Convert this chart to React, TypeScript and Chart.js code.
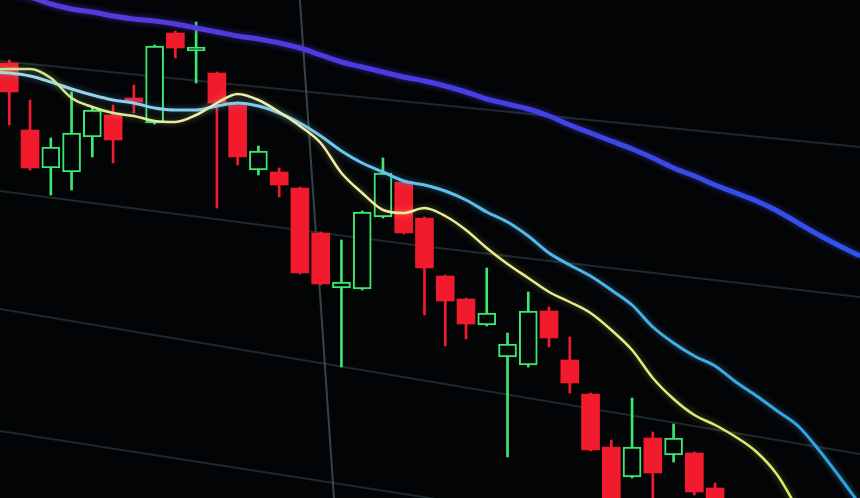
import React, { useEffect, useRef } from "react";
import { Chart, registerables } from "chart.js";

Chart.register(...registerables);

// ---- Candles (index -1 .. 34), prices ----
const candleStart = -1;
const opens = [40.0, 43.7, 37.0, 33.2, 32.8, 36.3, 38.5, 40.2, 37.7, 46.7, 44.9, 42.7, 39.7, 33.0, 32.8, 31.2, 26.7, 21.2, 21.1, 28.3, 31.8, 28.2, 22.4, 20.1, 17.5, 14.3, 13.5, 18.9, 14.0, 10.6, 5.3, 2.3, 6.2, 4.5, 4.7, 1.2];
const highs = [47.5, 44.0, 40.0, 36.2, 40.8, 39.2, 39.5, 41.5, 45.5, 46.9, 47.8, 42.8, 39.8, 35.4, 33.2, 31.3, 26.8, 26.0, 28.9, 34.2, 31.9, 28.3, 22.5, 20.2, 23.2, 16.7, 20.8, 19.3, 16.3, 10.7, 6.0, 10.2, 6.8, 7.6, 4.8, 1.7];
const lows = [38.8, 37.5, 33.0, 30.5, 31.0, 34.3, 33.7, 38.7, 37.6, 44.2, 41.7, 29.2, 33.5, 32.5, 30.3, 22.6, 21.5, 13.3, 21.0, 28.2, 26.6, 18.5, 15.4, 16.1, 17.4, 4.3, 13.3, 15.3, 10.7, 4.9, -1.0, 2.2, -1.0, 3.8, 0.5, -1.5];
const closes = [46.7, 40.8, 33.2, 35.3, 36.7, 39.0, 36.0, 39.8, 45.4, 45.2, 45.3, 39.7, 34.3, 34.9, 31.5, 22.7, 21.6, 21.8, 28.8, 32.7, 26.7, 23.2, 19.9, 17.6, 18.7, 15.6, 18.9, 16.2, 11.7, 5.0, -0.5, 5.3, 2.7, 6.2, 0.8, -1.0];

// ---- Moving averages (index -2 .. ) ----
const maStart = -2;
const maSlow = [51.6, 51.2, 50.8, 50.3, 49.6, 49.1, 48.8, 48.4, 48.1, 47.9, 47.6, 47.2, 46.8, 46.4, 46.1, 45.7, 45.2, 44.5, 43.8, 43.3, 42.8, 42.3, 41.9, 41.4, 40.8, 40.1, 39.6, 39.1, 38.4, 37.5, 36.7, 35.9, 35.1, 34.2, 33.2, 32.4, 31.5, 30.7, 29.9, 28.9, 27.7, 26.5, 25.4, 24.4];
const maMid = [42.9, 42.8, 42.7, 42.4, 41.8, 41.1, 40.5, 40.0, 39.7, 39.2, 39.0, 39.0, 39.4, 39.7, 39.4, 38.7, 37.7, 36.4, 34.9, 33.7, 32.8, 31.9, 31.5, 30.9, 30.0, 28.8, 27.8, 26.4, 24.7, 23.5, 22.4, 21.0, 19.5, 17.3, 15.7, 14.4, 13.4, 11.8, 10.4, 8.9, 7.4, 5.0, 2.3, -0.5];
const maFast = [42.9, 43.0, 43.1, 43.1, 42.2, 40.2, 39.3, 38.7, 38.4, 37.9, 37.8, 38.5, 39.7, 40.6, 40.0, 38.8, 37.4, 35.7, 32.7, 30.7, 29.0, 28.7, 29.2, 28.4, 27.0, 25.2, 23.6, 22.2, 20.8, 19.8, 18.7, 17.0, 15.0, 12.2, 10.1, 8.5, 7.5, 6.3, 4.8, 2.5, -1.0];

// ---- Screen grid lines as seen in the photo: [index, price] ----
const gridA = [[-0.45, 43.9], [40.98, 35.3]];
const gridB = [[-0.45, 30.9], [20.26, 25.3], [40.98, 20.3]];
const gridC = [[-0.45, 19.1], [40.98, 4.6]];
const gridD = [[-0.45, 6.9], [40.98, -6.5]];
const gridV = [[14.0, 50.0], [15.64, 0.2]];

const UP = "#3de872";
const DOWN = "#f21b2d";

function hGrad(chart: any, stops: [number, string][]) {
  const { ctx, chartArea } = chart;
  if (!chartArea) return stops[0][1];
  const g = ctx.createLinearGradient(chartArea.left, 0, chartArea.right, 0);
  stops.forEach(([o, c]) => g.addColorStop(o, c));
  return g;
}

const glowPlugin = {
  id: "glow",
  beforeDatasetDraw(chart: any, args: any) {
    const ds = chart.data.datasets[args.index];
    if (!ds.glow) return;
    const ctx = chart.ctx;
    ctx.save();
    ctx.shadowColor = ds.glow;
    ctx.shadowBlur = 6;
  },
  afterDatasetDraw(chart: any, args: any) {
    const ds = chart.data.datasets[args.index];
    if (!ds.glow) return;
    chart.ctx.restore();
  },
};

export default function App() {
  const ref = useRef<HTMLCanvasElement | null>(null);

  useEffect(() => {
    if (!ref.current) return;
    const idx = opens.map((_, k) => k + candleStart);
    const up = opens.map((o, k) => closes[k] >= o);

    const gridDs = [gridA, gridB, gridC, gridD, gridV].map((g, n) => ({
      type: "line" as const,
      data: g.map(([x, y]) => ({ x, y })),
      borderColor: n === 4 ? "rgba(95,120,130,0.55)" : "rgba(60,88,98,0.45)",
      borderWidth: 2,
      pointRadius: 0,
      tension: 0,
      order: 10,
    }));

    const maLine = (arr: number[], width: number, stops: [number, string][], glow: string, order: number) => ({
      type: "line" as const,
      data: arr.map((y, k) => ({ x: k + maStart, y })),
      borderColor: (c: any) => hGrad(c.chart, stops),
      borderWidth: width,
      pointRadius: 0,
      tension: 0.4,
      cubicInterpolationMode: "monotone" as const,
      glow,
      order,
    });

    const chart = new Chart(ref.current, {
      type: "bar",
      data: {
        datasets: [
          ...gridDs,
          {
            type: "bar",
            data: idx.map((x, k) => ({ x, y: [lows[k], highs[k]] })),
            backgroundColor: up.map((u) => (u ? UP : DOWN)),
            borderWidth: 0,
            barThickness: 2,
            grouped: false,
            order: 6,
          } as any,
          {
            type: "bar",
            data: idx.map((x, k) => ({
              x,
              y: [Math.min(opens[k], closes[k]), Math.max(opens[k], closes[k])],
            })),
            backgroundColor: up.map((u) => (u ? "#030405" : DOWN)),
            borderColor: up.map((u) => (u ? UP : DOWN)),
            borderWidth: up.map((u) => (u ? 2 : 0)),
            borderSkipped: false,
            barThickness: 18,
            grouped: false,
            order: 5,
          } as any,
          maLine(maSlow, 5, [[0, "#5a3ad6"], [0.5, "#4a3be4"], [1, "#2c55e8"]], "rgba(70,60,230,0.6)", 3),
          maLine(maMid, 3, [[0, "#a4d6e8"], [0.4, "#6cc6ee"], [1, "#2aa0e2"]], "rgba(80,180,240,0.5)", 2),
          maLine(maFast, 2.5, [[0, "#c4e88e"], [0.3, "#f2eeb0"], [0.6, "#ecea8c"], [1, "#cfee5a"]], "rgba(220,230,120,0.45)", 1),
        ] as any,
      },
      options: {
        animation: false,
        responsive: false,
        events: [],
        layout: { padding: 0 },
        plugins: { legend: { display: false }, tooltip: { enabled: false } },
        scales: {
          x: { type: "linear", min: -0.448, max: 40.98, offset: false, display: false, grid: { display: false } },
          y: { min: 0.2, max: 50, display: false, grid: { display: false } },
        },
      },
      plugins: [glowPlugin],
    });
    return () => chart.destroy();
  }, []);

  return (
    <div style={{ position: "fixed", left: 0, top: 0, width: 860, height: 498, background: "#030405" }}>
      <canvas ref={ref} width={860} height={498} style={{ display: "block" }} />
    </div>
  );
}
